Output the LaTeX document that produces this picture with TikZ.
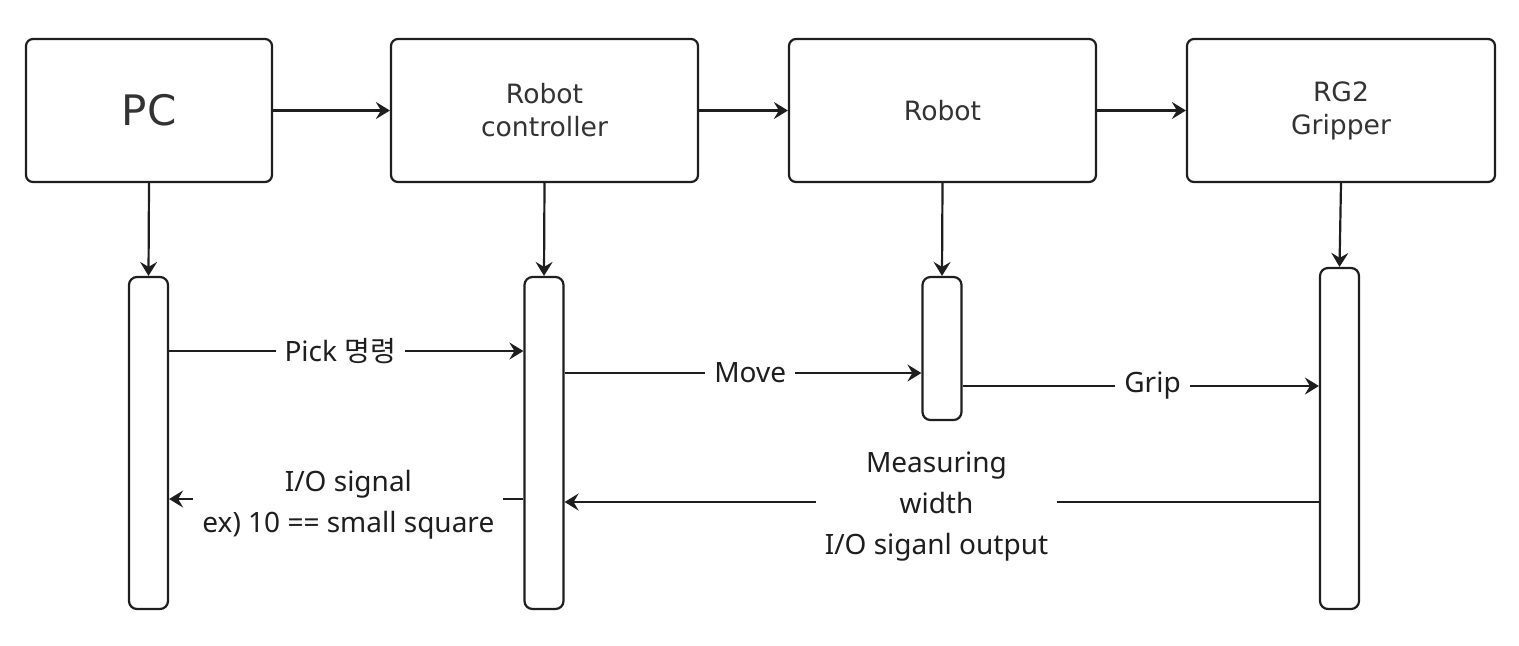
\documentclass[tikz,border=0pt]{standalone}
\usepackage{fontspec}
\setmainfont{Noto Sans}
\newfontfamily\boxfont{DejaVu Sans}
\newfontfamily\kr{Noto Sans CJK KR}
\usetikzlibrary{arrows.meta}
\definecolor{ink}{HTML}{1E1E1E}
\definecolor{boxtext}{HTML}{333333}
\begin{document}
\begin{tikzpicture}[x=0.5pt,y=-0.5pt,line width=1.1pt,color=ink,
  topbox/.style={draw=ink,rounded corners=3.5pt,minimum height=71.5pt,
    text=boxtext,font=\boxfont\fontsize{13.3}{16.5}\selectfont,align=center,inner sep=0pt},
  bar/.style={draw=ink,rounded corners=4pt,minimum width=19.5pt,inner sep=0pt},
  arr/.style={draw=ink,-{Stealth[length=7pt,width=8.5pt,inset=2.5pt]}},
  lbl/.style={fill=white,text=ink,font=\fontsize{14}{20.5}\selectfont,align=center,inner xsep=4.5pt,inner ysep=1pt}
]
\useasboundingbox (0,0) rectangle (1519,645);
% top boxes
\node[topbox,minimum width=123pt] (pc) at (149,110.5) {\fontsize{21}{24}\selectfont PC};
\node[topbox,minimum width=153.5pt] (rc) at (544.5,110.5) {Robot\\controller};
\node[topbox,minimum width=153.5pt] (rb) at (942.5,110.5) {Robot};
\node[topbox,minimum width=154pt] (gr) at (1341,110.5) {RG2\\Gripper};
% activation bars
\node[bar,minimum height=166pt] (pcb) at (148.5,443) {};
\node[bar,minimum height=166pt] (rcb) at (544,443) {};
\node[bar,minimum height=71.5pt] (rbb) at (942,348.5) {};
\node[bar,minimum height=170.5pt] (grb) at (1339.5,438.5) {};
% top arrows
\draw[arr] (pc.east) -- (rc.west);
\draw[arr] (rc.east) -- (rb.west);
\draw[arr] (rb.east) -- (gr.west);
% down arrows
\draw[arr] (pc.south) -- (pcb.north);
\draw[arr] (rc.south) -- (rcb.north);
\draw[arr] (rb.south) -- (rbb.north);
\draw[arr] (gr.south) -- (grb.north);
% messages
\draw[arr] (pcb.east |- 0,351) -- node[lbl,pos=0.483] {Pick {\kr 명령}} (rcb.west |- 0,351);
\draw[arr] (rcb.east |- 0,373) -- node[lbl,pos=0.52] {Move} (rbb.west |- 0,373);
\draw[arr] (rbb.east |- 0,386) -- node[lbl,pos=0.533] {Grip} (grb.west |- 0,386);
\draw[arr] (grb.west |- 0,502) -- node[lbl,pos=0.507,yshift=-2.5pt] {Measuring\\width\\I/O siganl output} (rcb.east |- 0,502);
\draw[arr] (rcb.west |- 0,499) -- node[lbl,pos=0.494,yshift=-3pt] {I/O signal\\ex) 10 == small square} (pcb.east |- 0,499);
\end{tikzpicture}
\end{document}
